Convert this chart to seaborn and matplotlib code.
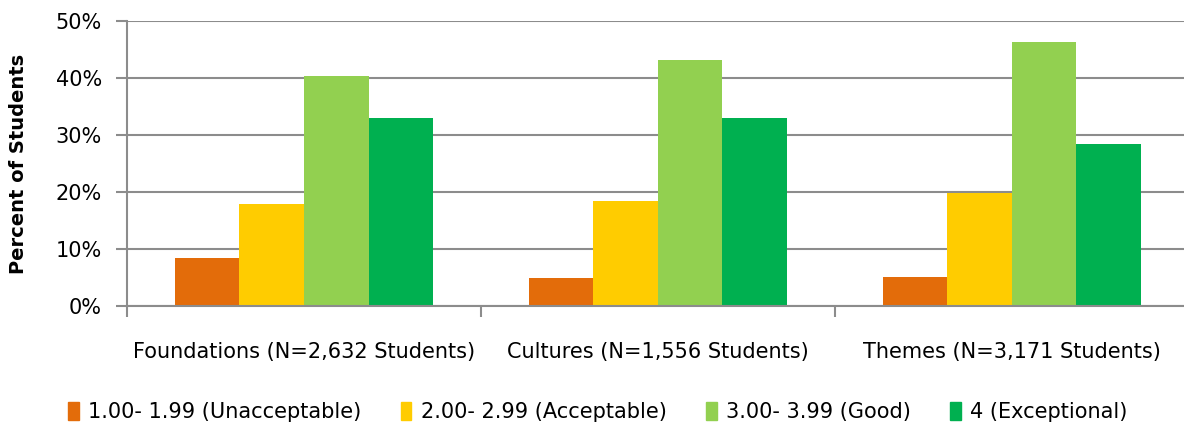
import matplotlib
matplotlib.use("Agg")
import matplotlib.pyplot as plt
import seaborn as sns
import pandas as pd
from matplotlib.ticker import PercentFormatter, FixedLocator

categories = ["Foundations (N=2,632 Students)", "Cultures (N=1,556 Students)", "Themes (N=3,171 Students)"]
series_names = ["1.00- 1.99 (Unacceptable)", "2.00- 2.99 (Acceptable)", "3.00- 3.99 (Good)", "4 (Exceptional)"]
unacceptable = [8.4, 5.0, 5.1]
acceptable = [17.9, 18.4, 19.9]
good = [40.3, 43.2, 46.3]
exceptional = [32.9, 32.9, 28.4]
colors = ["#E36C0A", "#FFCC00", "#92D050", "#00B050"]

rows = []
for name, vals in zip(series_names, [unacceptable, acceptable, good, exceptional]):
    for cat, v in zip(categories, vals):
        rows.append({"Category": cat, "Series": name, "Value": v})
df = pd.DataFrame(rows)

sns.set_style("white")
plt.rcParams["font.family"] = ["DejaVu Sans"]
plt.rcParams["text.color"] = "black"
plt.rcParams["axes.labelcolor"] = "black"
plt.rcParams["xtick.color"] = "black"
plt.rcParams["ytick.color"] = "black"

fig = plt.figure(figsize=(11.84, 4.32), dpi=100)
ax = fig.add_axes([127/1184, (432-306)/432, 1 - 127/1184 + 0.004, (306-21)/432])

sns.barplot(data=df, x="Category", y="Value", hue="Series", hue_order=series_names,
            order=categories, palette=colors, width=0.73, saturation=1, ax=ax,
            edgecolor="none", linewidth=0, legend=False)

ax.set_ylim(0, 50)
ax.set_xlim(-0.5, 2.5)
ax.set_yticks([0, 10, 20, 30, 40, 50])
ax.yaxis.set_major_formatter(PercentFormatter(decimals=0))
ax.yaxis.grid(True, color="#8C8C8C", linewidth=1.5)
ax.set_axisbelow(True)
for s in ["top", "right"]:
    ax.spines[s].set_visible(False)
for s in ["left", "bottom"]:
    ax.spines[s].set_color("#8C8C8C")
    ax.spines[s].set_linewidth(1.5)
ax.set_xlabel("")
ax.set_ylabel("Percent of Students", fontsize=14, fontweight="bold", labelpad=20)
ax.tick_params(axis="y", labelsize=15, length=8, width=1.5, color="#8C8C8C",
               labelcolor="black", pad=10, left=True)
ax.tick_params(axis="x", labelsize=15, length=0, pad=26, labelcolor="black")
ax.xaxis.set_minor_locator(FixedLocator([-0.5, 0.5, 1.5, 2.5]))
ax.tick_params(axis="x", which="minor", length=8, width=1.5, color="#8C8C8C", bottom=True)

handles = [plt.Rectangle((0, 0), 1, 1, color=c) for c in colors]
fig.legend(handles, series_names, loc="center", bbox_to_anchor=(0.505, 0.047), ncol=4,
           frameon=False, fontsize=15, handlelength=0.5, handleheight=0.95,
           handletextpad=0.45, columnspacing=1.9)

fig.savefig("out.png", dpi=100)
